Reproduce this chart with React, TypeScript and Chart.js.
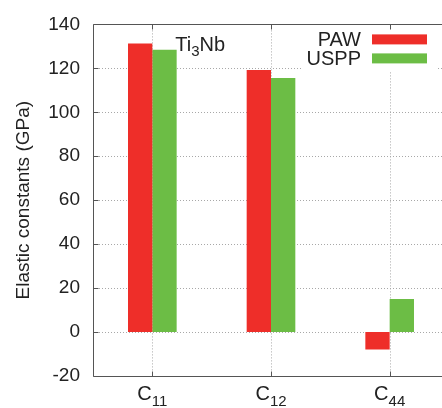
import React, { useEffect, useRef } from "react";
import { Chart, registerables } from "chart.js";

Chart.register(...registerables);

// ---- data ----
const categories = ["C_11", "C_12", "C_44"];
const seriesNames = ["PAW", "USPP"];
const pawValues = [131.3, 119.3, -7.9];
const usppValues = [128.5, 115.6, 15.0];
const yTicks = [-20, 0, 20, 40, 60, 80, 100, 120, 140];
const yTitle = "Elastic constants (GPa)";
const annotationParts = ["Ti", "3", "Nb"]; // odd index = subscript

const RED = "#ee2e29";
const GREEN = "#6cbd45";
const FONT = '"Liberation Sans", Arial, sans-serif';

type Part = { text: string; sub: boolean };

function splitLabel(label: string): Part[] {
  const [main, sub] = label.split("_");
  const parts: Part[] = [{ text: main, sub: false }];
  if (sub) parts.push({ text: sub, sub: true });
  return parts;
}

function drawParts(
  ctx: CanvasRenderingContext2D,
  parts: Part[],
  x: number,
  baseline: number,
  align: "center" | "left",
  mainSize: number,
  subSize: number,
  subShift: number
) {
  ctx.textAlign = "left";
  ctx.textBaseline = "alphabetic";
  const widths = parts.map((p) => {
    ctx.font = `${p.sub ? subSize : mainSize}px ${FONT}`;
    return ctx.measureText(p.text).width;
  });
  const total = widths.reduce((a, b) => a + b, 0);
  let cx = align === "center" ? x - total / 2 : x;
  parts.forEach((p, i) => {
    ctx.font = `${p.sub ? subSize : mainSize}px ${FONT}`;
    ctx.fillText(p.text, cx, baseline + (p.sub ? subShift : 0));
    cx += widths[i];
  });
}

const gridPlugin = {
  id: "gnuGrid",
  beforeDatasetsDraw(chart: any) {
    const { ctx, chartArea, scales } = chart;
    const { left, right, top, bottom } = chartArea;
    const x = scales.x;
    const y = scales.y;
    ctx.save();
    ctx.strokeStyle = "#a8a8a8";
    ctx.lineWidth = 1;
    ctx.setLineDash([1, 2]);
    yTicks.forEach((v) => {
      const py = Math.round(y.getPixelForValue(v)) + 0.5;
      if (Math.abs(py - top) < 2 || Math.abs(py - bottom) < 2) return;
      ctx.beginPath();
      ctx.moveTo(left, py);
      ctx.lineTo(right, py);
      ctx.stroke();
    });
    categories.forEach((_c, i) => {
      const px = Math.round(x.getPixelForValue(i)) + 0.5;
      ctx.beginPath();
      ctx.moveTo(px, top);
      ctx.lineTo(px, bottom);
      ctx.stroke();
    });
    ctx.restore();
  },
  afterDatasetsDraw(chart: any) {
    const { ctx, chartArea, scales } = chart;
    const { left, right, top, bottom } = chartArea;
    const x = scales.x;
    const y = scales.y;
    ctx.save();
    ctx.setLineDash([]);

    // opaque legend key box (hides grid lines behind it)
    ctx.fillStyle = "#fff";
    ctx.fillRect(302, top + 1, 135, 46);

    ctx.strokeStyle = "#555";
    ctx.lineWidth = 1;
    const L = Math.round(left) + 0.5;
    const B = Math.round(bottom) + 0.5;
    const T = Math.round(top) + 0.5;
    ctx.beginPath();
    ctx.moveTo(L, T);
    ctx.lineTo(L, B);
    ctx.lineTo(right, B);
    ctx.moveTo(L, T);
    ctx.lineTo(right, T);
    ctx.stroke();
    // inward tick marks
    const tl = 5;
    ctx.beginPath();
    yTicks.forEach((v) => {
      const py = Math.round(y.getPixelForValue(v)) + 0.5;
      ctx.moveTo(L, py);
      ctx.lineTo(L + tl, py);
    });
    categories.forEach((_c, i) => {
      const px = Math.round(x.getPixelForValue(i)) + 0.5;
      ctx.moveTo(px, B);
      ctx.lineTo(px, B - tl);
      ctx.moveTo(px, T);
      ctx.lineTo(px, T + tl);
    });
    ctx.stroke();

    // x category labels with subscripts
    ctx.fillStyle = "#222";
    categories.forEach((c, i) => {
      const px = x.getPixelForValue(i);
      drawParts(ctx, splitLabel(c), px, bottom + 24, "center", 20, 15, 6);
    });

    // annotation Ti3Nb
    const annParts: Part[] = annotationParts.map((t, i) => ({ text: t, sub: i % 2 === 1 }));
    drawParts(ctx, annParts, x.getPixelForValue(0) + 23, top + 27, "left", 20, 15, 5);

    // legend
    const datasets = chart.data.datasets;
    datasets.forEach((ds: any, i: number) => {
      const cy = top + 15 + i * 19;
      ctx.font = `20px ${FONT}`;
      ctx.textAlign = "right";
      ctx.textBaseline = "middle";
      ctx.fillStyle = "#222";
      ctx.fillText(ds.label, 361, cy + 1);
      ctx.fillStyle = ds.backgroundColor;
      ctx.fillRect(372, cy - 5, 55, 10);
    });
    ctx.restore();
  },
};

export default function App() {
  const ref = useRef<HTMLCanvasElement | null>(null);

  useEffect(() => {
    if (!ref.current) return;
    const chart = new Chart(ref.current, {
      type: "bar",
      data: {
        labels: categories,
        datasets: [
          {
            label: seriesNames[0],
            data: pawValues,
            backgroundColor: RED,
            borderWidth: 0,
            categoryPercentage: 0.41,
            barPercentage: 1.0,
          },
          {
            label: seriesNames[1],
            data: usppValues,
            backgroundColor: GREEN,
            borderWidth: 0,
            categoryPercentage: 0.41,
            barPercentage: 1.0,
          },
        ],
      },
      options: {
        responsive: false,
        animation: false,
        layout: { padding: { left: 0, right: 21, top: 20, bottom: 0 } },
        plugins: {
          legend: { display: false },
          tooltip: { enabled: false },
        },
        scales: {
          x: {
            type: "category",
            offset: true,
            grid: { display: false, drawTicks: false },
            border: { display: false },
            ticks: { display: false },
            afterFit: (s: any) => {
              s.height = 32;
            },
          },
          y: {
            min: -20,
            max: 140,
            grid: { display: false, drawTicks: false },
            border: { display: false },
            afterBuildTicks: (s: any) => {
              s.ticks = yTicks.map((v) => ({ value: v }));
            },
            ticks: {
              font: { family: FONT, size: 19 },
              color: "#222",
              padding: 13,
              callback: (v: any) => String(v),
            },
            title: {
              display: true,
              text: yTitle,
              font: { family: FONT, size: 19 },
              color: "#222",
              padding: { top: 12, bottom: 0 },
            },
            afterFit: (s: any) => {
              s.width = 93;
            },
          },
        },
      },
      plugins: [gridPlugin],
    });
    return () => chart.destroy();
  }, []);

  return (
    <div
      style={{
        position: "fixed",
        left: 0,
        top: 0,
        width: 442,
        height: 408,
        overflow: "hidden",
        background: "#fff",
      }}
    >
      <canvas ref={ref} width={470} height={408} style={{ display: "block", width: 470, height: 408 }} />
    </div>
  );
}
